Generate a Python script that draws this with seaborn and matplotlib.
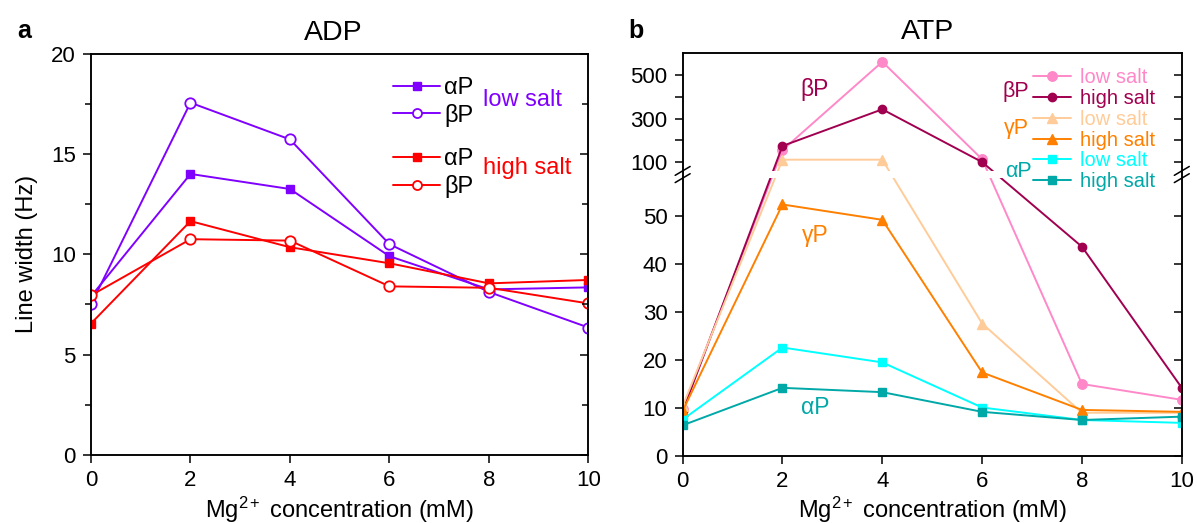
import numpy as np
import matplotlib
matplotlib.use("Agg")
import matplotlib.pyplot as plt
from matplotlib.lines import Line2D
from matplotlib.patches import Rectangle
from matplotlib.ticker import MultipleLocator
import seaborn as sns

# ---------------- data ----------------
mg = [0, 2, 4, 6, 8, 10]

# Panel a: ADP line widths (Hz)
adp_alpha_low = [7.9, 14.0, 13.25, 9.9, 8.25, 8.35]
adp_beta_low = [7.5, 17.55, 15.72, 10.5, 8.12, 6.35]
adp_alpha_high = [6.55, 11.65, 10.35, 9.55, 8.55, 8.72]
adp_beta_high = [7.95, 10.75, 10.68, 8.4, 8.33, 7.55]

# Panel b: ATP line widths (Hz)
atp_beta_low = [9.8, 156, 561, 114, 15.0, 11.7]
atp_beta_high = [9.3, 175, 343, 101, 43.6, 14.2]
atp_gamma_low = [10.4, 112, 112, 27.6, 9.0, 9.0]
atp_gamma_high = [9.4, 52.4, 49.2, 17.4, 9.6, 9.2]
atp_alpha_low = [7.6, 22.6, 19.5, 10.1, 7.5, 6.9]
atp_alpha_high = [6.4, 14.2, 13.3, 9.2, 7.5, 8.2]

x_ticks = [0, 2, 4, 6, 8, 10]
yticks_a = [0, 5, 10, 15, 20]
yticks_b = [0, 10, 20, 30, 40, 50, 100, 200, 300, 400, 500]
yticklabels_b = ["0", "10", "20", "30", "40", "50", "100", "", "300", "", "500"]

# ---------------- style ----------------
sns.set_theme(style="ticks")
plt.rcParams.update({
    "font.family": ["Liberation Sans", "DejaVu Sans"],
    "mathtext.fontset": "custom",
    "mathtext.rm": "Liberation Sans",
    "mathtext.it": "Liberation Sans:italic",
    "mathtext.bf": "Liberation Sans:bold",
    "mathtext.default": "regular",
    "axes.linewidth": 1.1,
    "axes.edgecolor": "black",
    "xtick.color": "black",
    "ytick.color": "black",
    "axes.labelcolor": "black",
    "text.color": "black",
})

PURPLE = "#8000FF"
RED = "#FF0000"
PINK = "#FF88C8"
DMAG = "#A0004F"
PEACH = "#FFCC99"
ORANGE = "#FF8000"
CYAN = "#00FFFF"
TEAL = "#00A8A8"
LW = 1.4
TICK_FS = 16

# broken axis scale for panel b
LOW_TOP = 58.0
K_LOW = 4.8
UP_REF = 100.0
T_UP_REF = 293.7
K_UP = 0.218


def fwd(y):
    y = np.asarray(y, dtype=float)
    return np.where(y <= LOW_TOP, y * K_LOW, T_UP_REF + (y - UP_REF) * K_UP)


def inv(t):
    t = np.asarray(t, dtype=float)
    t_up0 = T_UP_REF + (LOW_TOP - UP_REF) * K_UP
    return np.where(t <= LOW_TOP * K_LOW, t / K_LOW,
                    np.where(t < t_up0, LOW_TOP, UP_REF + (t - T_UP_REF) / K_UP))


fig = plt.figure(figsize=(11.97, 5.23), dpi=100)
axA = fig.add_axes([0.0760, 0.130, 0.4156, 0.7677])
axB = fig.add_axes([0.5703, 0.1281, 0.4170, 0.7700])


def draw(ax, y, color, marker, ms, filled, mew=1.0):
    sns.lineplot(x=mg, y=y, ax=ax, color=color, linewidth=LW, marker=marker,
                 markersize=ms, markerfacecolor=color if filled else "white",
                 markeredgecolor=color, markeredgewidth=mew,
                 estimator=None, sort=False, legend=False)


def handle(color, marker, ms, filled, mew=1.0):
    return Line2D([], [], color=color, linewidth=LW, marker=marker, markersize=ms,
                  markerfacecolor=color if filled else "white",
                  markeredgecolor=color, markeredgewidth=mew)


# ---------------- panel a ----------------
draw(axA, adp_alpha_low, PURPLE, "s", 5.5, True)
draw(axA, adp_beta_low, PURPLE, "o", 7.5, False, 1.3)
draw(axA, adp_alpha_high, RED, "s", 5.5, True)
draw(axA, adp_beta_high, RED, "o", 7.5, False, 1.3)

axA.set_xlim(0, 10)
axA.set_ylim(0, 20)
axA.set_xticks(x_ticks)
axA.set_yticks(yticks_a)
axA.yaxis.set_minor_locator(MultipleLocator(2.5))
axA.set_title("ADP", fontsize=20.5, pad=10, x=0.488)
axA.set_ylabel("Line width (Hz)", fontsize=17, labelpad=9)
axA.set_xlabel("Mg$^{2+}$ concentration (mM)", fontsize=17, labelpad=2.5)

legA1 = axA.legend(handles=[handle(PURPLE, "s", 5.5, True), handle(PURPLE, "o", 6.5, False, 1.3)],
                   labels=["\u03b1P", "\u03b2P"], loc="upper left", bbox_to_anchor=(0.6076, 0.9405),
                   frameon=False, fontsize=17, handlelength=2.0, handletextpad=0.15,
                   labelspacing=0.18, borderpad=0, borderaxespad=0)
axA.add_artist(legA1)
legA2 = axA.legend(handles=[handle(RED, "s", 5.5, True), handle(RED, "o", 6.5, False, 1.3)],
                   labels=["\u03b1P", "\u03b2P"], loc="upper left", bbox_to_anchor=(0.6076, 0.765),
                   frameon=False, fontsize=17, handlelength=2.0, handletextpad=0.15,
                   labelspacing=0.22, borderpad=0, borderaxespad=0)
axA.text(0.788, 0.884, "low salt", color=PURPLE, fontsize=17, ha="left", va="center",
         transform=axA.transAxes)
axA.text(0.788, 0.715, "high salt", color=RED, fontsize=17, ha="left", va="center",
         transform=axA.transAxes)

# ---------------- panel b ----------------
seriesB = [
    (atp_beta_low, PINK, "o", 6.8),
    (atp_beta_high, DMAG, "o", 6.0),
    (atp_gamma_low, PEACH, "^", 7.0),
    (atp_gamma_high, ORANGE, "^", 7.0),
    (atp_alpha_low, CYAN, "s", 6.0),
    (atp_alpha_high, TEAL, "s", 6.0),
]
for vals, col, mk, ms in seriesB:
    draw(axB, vals, col, mk, ms, True)

axB.set_yscale("function", functions=(fwd, inv))
axB.set_xlim(0, 10)
axB.set_ylim(0, 600)
axB.set_xticks(x_ticks)
axB.set_yticks(yticks_b)
axB.set_yticklabels(yticklabels_b)
axB.set_title("ATP", fontsize=20.5, pad=10, x=0.49)
axB.set_xlabel("Mg$^{2+}$ concentration (mM)", fontsize=17, labelpad=1.5)
axB.set_ylabel("")

# white gap at the axis break
t0, t1 = float(fwd(0)), float(fwd(600))
f_lo = (float(fwd(LOW_TOP)) - t0) / (t1 - t0)
f_hi = (float(fwd(LOW_TOP + 1e-6)) - t0) / (t1 - t0)
axB.add_patch(Rectangle((0, f_lo), 1, f_hi - f_lo, transform=axB.transAxes,
                        facecolor="white", edgecolor="none", zorder=2.4))

legB = axB.legend(handles=[handle(c, m, s, True) for _, c, m, s in seriesB],
                  labels=["low salt", "high salt"] * 3, loc="upper left",
                  bbox_to_anchor=(0.7013, 0.963), frameon=False, fontsize=14.5,
                  handlelength=1.9, handletextpad=0.45, labelspacing=0.09,
                  borderpad=0, borderaxespad=0)
legB.set_zorder(5)
for txt, (_, c, _, _) in zip(legB.get_texts(), seriesB):
    txt.set_color(c)

axB.text(0.668, 0.905, "\u03b2P", color=DMAG, fontsize=15.5, ha="center", va="center",
         transform=axB.transAxes, zorder=6)
axB.text(0.668, 0.814, "\u03b3P", color=ORANGE, fontsize=15.5, ha="center", va="center",
         transform=axB.transAxes, zorder=6)
axB.text(0.672, 0.706, "\u03b1P", color=TEAL, fontsize=15.5, ha="center", va="center",
         transform=axB.transAxes, zorder=6)

axB.text(2.65, 432, "\u03b2P", color=DMAG, fontsize=16.5, ha="center", va="center", zorder=6)
axB.text(2.65, 46, "\u03b3P", color=ORANGE, fontsize=16.5, ha="center", va="center", zorder=6)
axB.text(2.65, 10.2, "\u03b1P", color=TEAL, fontsize=16.5, ha="center", va="center", zorder=6)

# ---------------- ticks ----------------
for ax in (axA, axB):
    ax.tick_params(axis="both", which="both", direction="out", top=False, right=False,
                   labelsize=TICK_FS, width=1.1, pad=5)
    ax.tick_params(which="major", length=6)
    ax.tick_params(which="minor", length=4)
    for sp in ax.spines.values():
        sp.set_visible(True)
        sp.set_linewidth(1.1)
        sp.set_color("black")

twA = axA.twinx()
twA.set_ylim(0, 20)
twA.set_yticks(yticks_a)
twA.yaxis.set_minor_locator(MultipleLocator(2.5))
twA.tick_params(axis="y", which="both", direction="in", labelright=False, width=1.1)
twA.tick_params(which="major", length=6)
twA.tick_params(which="minor", length=4)

twB = axB.twinx()
twB.set_yscale("function", functions=(fwd, inv))
twB.set_ylim(0, 600)
twB.set_yticks(yticks_b)
twB.tick_params(axis="y", which="both", direction="in", labelright=False, width=1.1, length=6)

# break marks on both spines
mid = (f_lo + f_hi) / 2
for xs in (0.0, 1.0):
    for off in (-0.009, 0.009):
        twB.plot([xs - 0.015, xs + 0.015], [mid + off - 0.011, mid + off + 0.011],
                 transform=twB.transAxes, color="black", lw=1.1, clip_on=False, zorder=10)

# panel letters
fig.text(17 / 1197, 1 - 38 / 523, "a", fontsize=18, fontweight="bold", va="baseline", ha="left")
fig.text(628 / 1197, 1 - 38 / 523, "b", fontsize=18, fontweight="bold", va="baseline", ha="left")

fig.savefig("out.png", dpi=100)
